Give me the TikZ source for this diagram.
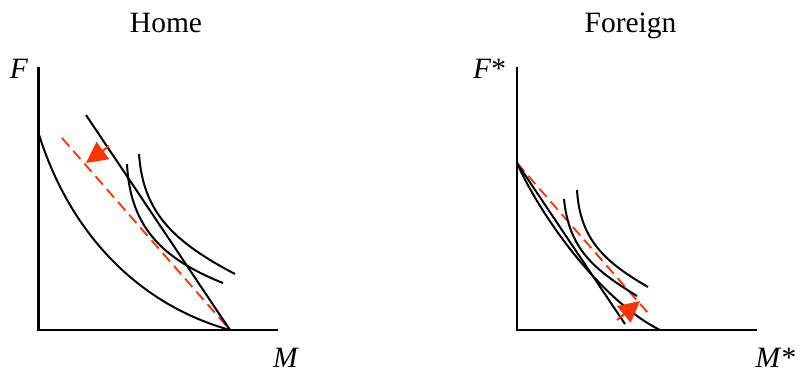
\documentclass[tikz,border=0pt]{standalone}
\usepackage{fontspec}
\setmainfont{Liberation Serif}
\usetikzlibrary{arrows.meta}
\definecolor{arrred}{RGB}{255,51,0}
\begin{document}
\begin{tikzpicture}[x=1pt,y=-1pt,
  lbl/.style={inner sep=0pt,anchor=base,font=\fontsize{29.5}{32}\selectfont},
  axisline/.style={line width=2.2pt,line cap=butt,line join=miter},
  curve/.style={line width=2pt},
  dashline/.style={arrred,line width=1.8pt,dash pattern=on 11pt off 6pt},
  bigarrow/.style={arrred,line width=2pt,-{Triangle[length=21pt,width=21pt]}}]
\useasboundingbox (0,0) rectangle (810,384);
% titles and labels
\node[lbl] (thome) at (166,32) {Home};
\node[lbl] (tforeign) at (630.5,32) {Foreign};
\node[lbl] (lF) at (19,78) {\textit{F}};
\node[lbl] (lM) at (286,367) {\textit{M}};
\node[lbl] (lFs) at (489.5,78) {\textit{F}*};
\node[lbl] (lMs) at (776,367) {\textit{M}*};
% ---------- Home ----------
\draw[axisline] (38.5,67) -- (38.5,330) -- (278,330);
\draw[curve] (38.5,133) .. controls (70,235) and (140,305) .. (230,330);
\draw[dashline] (62,138) -- (230,330);
\draw[curve] (86,115) -- (230,330);
\draw[curve] (127,164) .. controls (130,225) and (160,258) .. (223,283);
\draw[curve] (139,154) .. controls (143,210) and (170,240) .. (235,274);
\coordinate (ha0) at (109,146);
\coordinate (ha1) at (86,163);
\draw[bigarrow] (ha0) -- (ha1);
% ---------- Foreign ----------
\draw[axisline] (517,67) -- (517,330) -- (757,330);
\draw[dashline] (517,163) -- (648,313);
\draw[curve] (517,163) -- (625,324);
\draw[curve] (517,163) .. controls (540,215) and (600,300) .. (660,330);
\draw[curve] (564,199) .. controls (569,250) and (595,270) .. (637,296);
\draw[curve] (577,190) .. controls (580,240) and (605,262) .. (648,287);
\coordinate (fa0) at (617,320);
\coordinate (fa1) at (640,301);
\draw[bigarrow] (fa0) -- (fa1);
\end{tikzpicture}
\end{document}
